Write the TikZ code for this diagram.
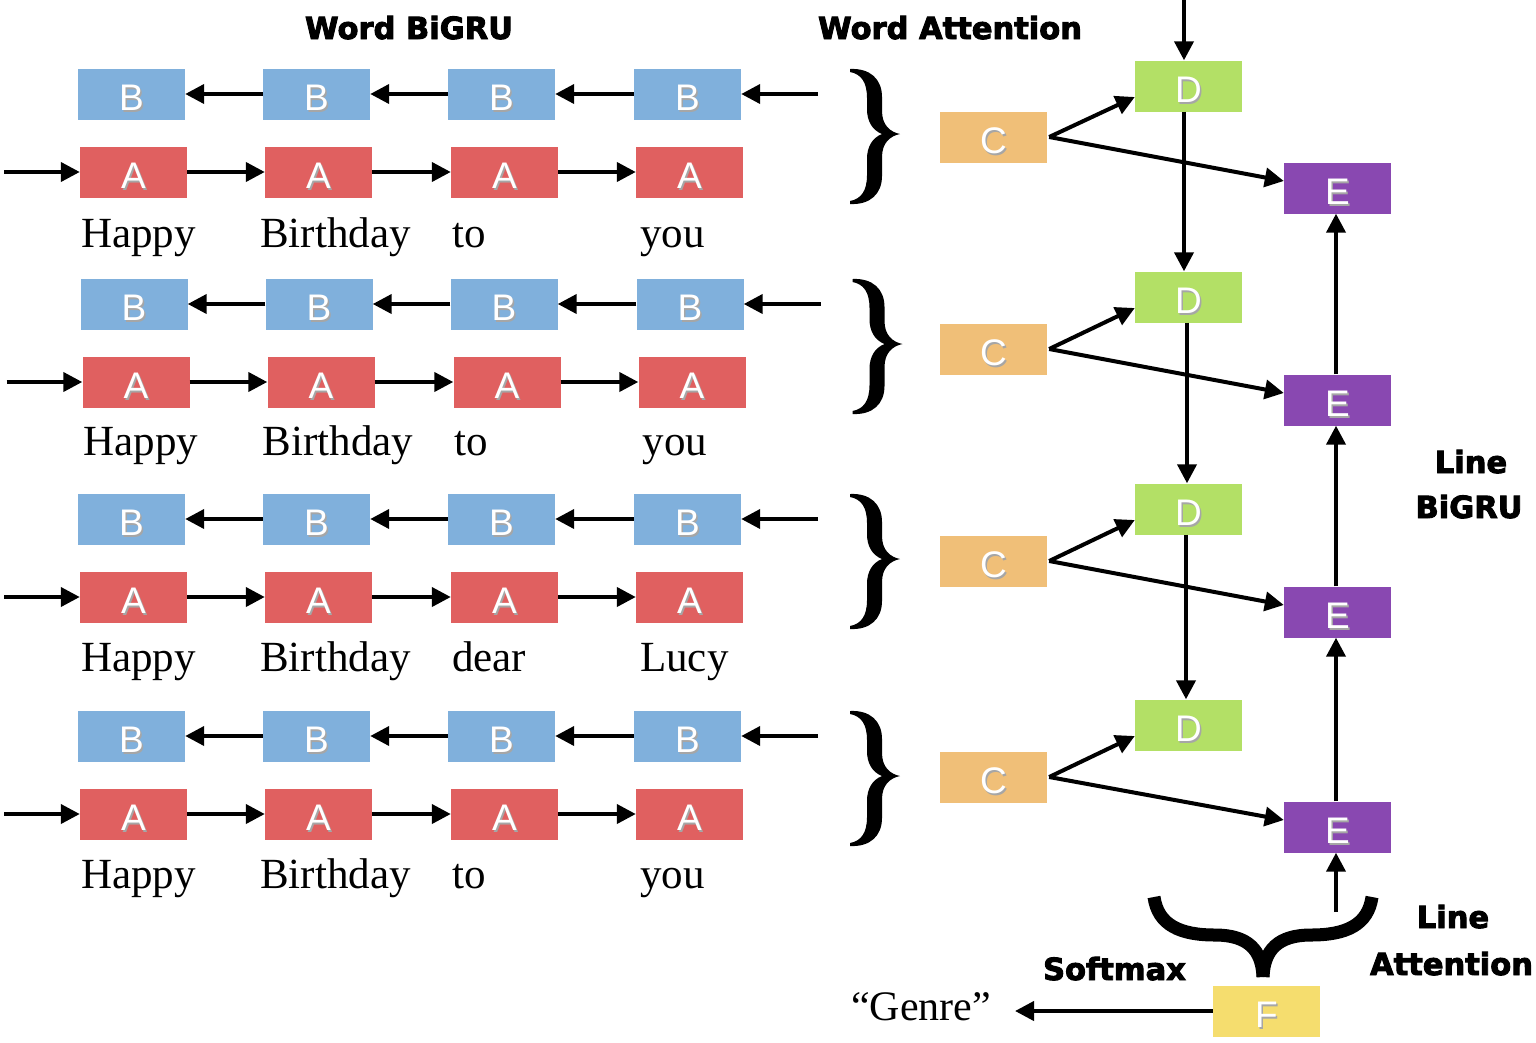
\documentclass[tikz,border=0pt]{standalone}
\usepackage{fontspec}
\setmainfont{Liberation Serif}
\newfontfamily\lsans{Liberation Sans}
\newfontfamily\heavy{DejaVu Sans}[BoldFeatures={FakeBold=3}]
\usetikzlibrary{arrows.meta}
\definecolor{cB}{HTML}{80B0DC}
\definecolor{cA}{HTML}{E06060}
\definecolor{cC}{HTML}{F0BF78}
\definecolor{cD}{HTML}{B3E066}
\definecolor{cE}{HTML}{8948B1}
\definecolor{cF}{HTML}{F5DD6E}
\newcommand\sh[1]{\rlap{\kern1.5pt\raisebox{-1.5pt}{\color{black!35}#1}}#1}
\tikzset{
  cell/.style={minimum width=107pt, minimum height=51pt, inner sep=0pt, text=white,
    text height=33pt, text depth=0pt,
    font=\lsans\fontsize{37}{37}\selectfont},
  arr/.style={line width=4pt, -{Triangle[length=19pt,width=19pt]}},
  word/.style={anchor=base west, inner sep=0pt, font=\fontsize{43}{43}\selectfont},
  heading/.style={inner sep=0pt, anchor=base, font=\heavy\bfseries\fontsize{30.5}{30.5}\selectfont},
  rbrace/.pic={
    \fill (0,0) .. controls (20,-1) and (32,10) .. (32,28)
      -- (32,42) .. controls (32,56) and (40,63) .. (50,65)
      .. controls (40,67) and (32,74) .. (32,88)
      -- (32,107) .. controls (32,125) and (20,136) .. (0,135)
      -- (0,132) .. controls (11,130) and (17,122) .. (17,106)
      -- (17,90) .. controls (17,78) and (22,69) .. (32,65)
      .. controls (22,61) and (17,52) .. (17,40)
      -- (17,29) .. controls (17,13) and (11,5) .. (0,3) -- cycle;
  }
}
\begin{document}
\begin{tikzpicture}[x=1pt, y=-1pt]
\useasboundingbox (0,0) rectangle (1536,1042);

% titles
\node[heading] (t1) at (409,39) {Word BiGRU};
\node[heading] (t2) at (950,39) {Word Attention};
\node[heading] (t3) at (1471,473) {Line};
\node[heading] (t4) at (1469,518) {BiGRU};
\node[heading] (t5) at (1453,928) {Line};
\node[heading] (t6) at (1451.5,975) {Attention};
\node[heading] (t7) at (1114.5,980) {Softmax};

% word-level groups
\foreach \g/\yb/\bline/\dx/\wone/\wtwo/\wthree/\wfour in {
  1/94/247/0/Happy/Birthday/to/you,
  2/304/455/2.5/Happy/Birthday/to/you,
  3/519/671/0/Happy/Birthday/dear/Lucy,
  4/736/888/0/Happy/Birthday/to/you}{
  \pgfmathsetmacro\ya{\yb+78}
  \foreach \i/\xb/\xa in {1/131.5/133.5, 2/316.5/318.5, 3/501.5/504.5, 4/687.5/689.5}{
    \node[cell, fill=cB] (B\g-\i) at ({\xb+\dx},\yb) {\sh{B}};
    \node[cell, fill=cA] (A\g-\i) at ({\xa+\dx},\ya) {\sh{A}};
  }
  \node[word] (w\g-1) at ({81+\dx},\bline) {\wone};
  \node[word] (w\g-2) at ({260+\dx},\bline) {\wtwo};
  \node[word] (w\g-3) at ({452+\dx},\bline) {\wthree};
  \node[word] (w\g-4) at ({640+\dx},\bline) {\wfour};
  \coordinate (inB\g) at ({818+\dx},\yb);
  \coordinate (inA\g) at ({4+\dx},\ya);
  \draw[arr] (inB\g) -- (B\g-4.east);
  \draw[arr] (B\g-4.west) -- (B\g-3.east);
  \draw[arr] (B\g-3.west) -- (B\g-2.east);
  \draw[arr] (B\g-2.west) -- (B\g-1.east);
  \draw[arr] (inA\g) -- (A\g-1.west);
  \draw[arr] (A\g-1.east) -- (A\g-2.west);
  \draw[arr] (A\g-2.east) -- (A\g-3.west);
  \draw[arr] (A\g-3.east) -- (A\g-4.west);
  \pic at ({850+\dx},{\yb-25}) {rbrace};
}

% line-level nodes
\foreach \g/\yc/\yd/\ye in {1/137/86/188, 2/349/297/400, 3/561/509/612, 4/777/725/827}{
  \node[cell, fill=cC] (C\g) at (993.5,\yc) {\sh{C}};
  \node[cell, fill=cD] (D\g) at (1188.5,\yd) {\sh{D}};
  \node[cell, fill=cE] (E\g) at (1337.5,\ye) {\sh{E}};
  \draw[arr] ([xshift=2pt]C\g.east) -- ([yshift=-11pt]D\g.west);
  \draw[arr] ([xshift=2pt]C\g.east) -- ([yshift=7pt]E\g.west);
}
\node[cell, fill=cF] (F) at (1266.5,1011) {\sh{F}};

\coordinate (topin) at (1184,0);
\draw[arr] (topin) -- ([xshift=-4.5pt]D1.north);
\draw[arr] ([xshift=-4.5pt]D1.south) -- ([xshift=-4.5pt]D2.north);
\draw[arr] ([xshift=-1.5pt]D2.south) -- ([xshift=-1.5pt]D3.north);
\draw[arr] ([xshift=-2.5pt]D3.south) -- ([xshift=-2.5pt]D4.north);

\coordinate (botin) at (1336,912);
\draw[arr] (botin) -- ([xshift=-1.5pt]E4.south);
\draw[arr] ([xshift=-1.5pt]E4.north) -- ([xshift=-1.5pt]E3.south);
\draw[arr] ([xshift=-1.5pt]E3.north) -- ([xshift=-1.5pt]E2.south);
\draw[arr] ([xshift=-1.5pt]E2.north) -- ([xshift=-1.5pt]E1.south);

% bottom brace
\draw[line width=13pt] (1154,897) .. controls (1158,925) and (1180,935) .. (1215,935)
  .. controls (1248,935) and (1262,950) .. (1263,977);
\draw[line width=13pt] (1372,897) .. controls (1368,925) and (1346,935) .. (1311,935)
  .. controls (1278,935) and (1264,950) .. (1263,977);

% output
\node[anchor=base west, inner sep=0pt, font=\fontsize{42}{42}\selectfont] (genre) at (851,1020) {“Genre”};
\coordinate (gtip) at (1015,1011);
\draw[arr] (F.west) -- (gtip);
\end{tikzpicture}
\end{document}
